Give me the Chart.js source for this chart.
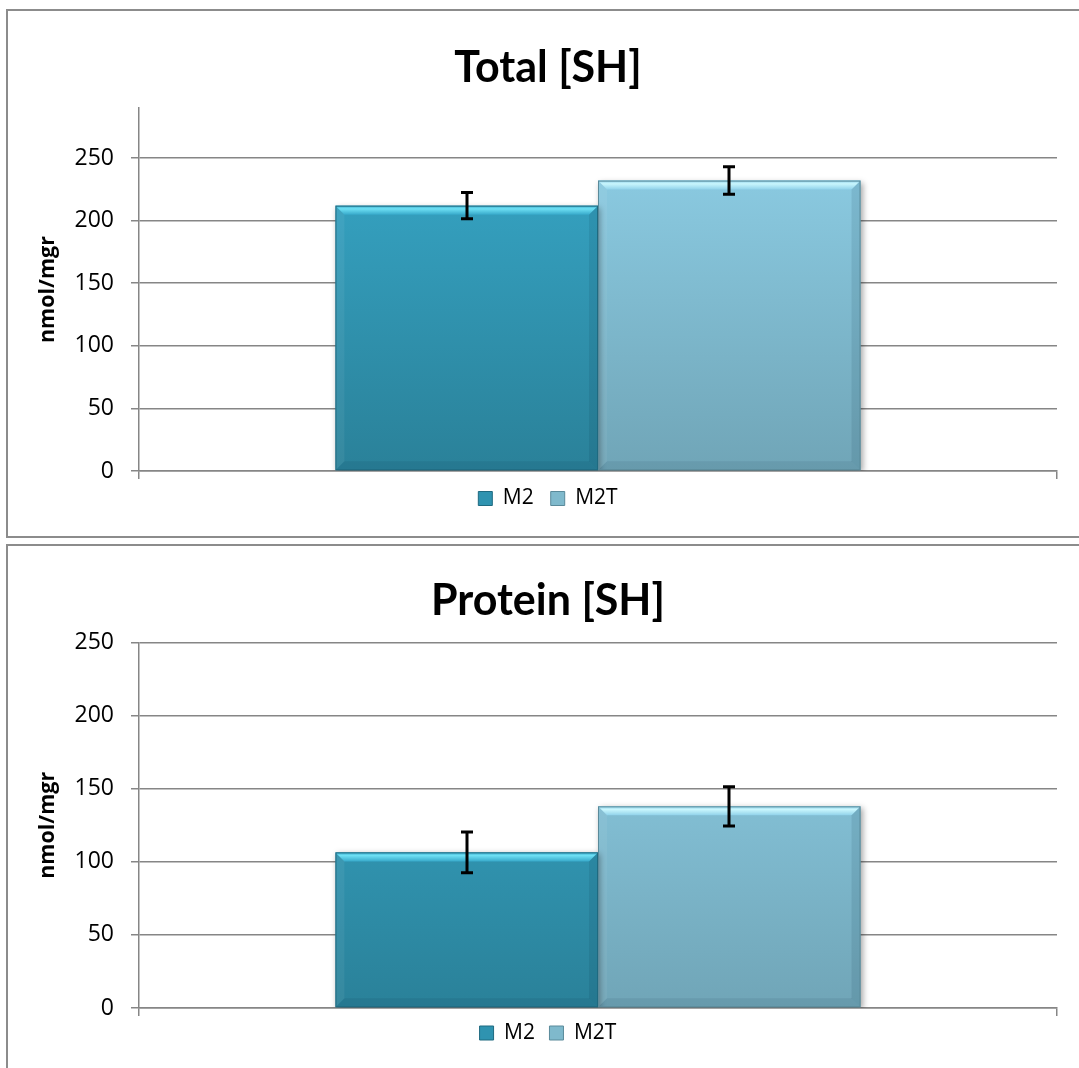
<!DOCTYPE html>
<html>
<head>
<meta charset="utf-8">
<script src="https://cdn.jsdelivr.net/npm/chart.js@4.4.1/dist/chart.umd.min.js"></script>
<style>
  html, body { margin: 0; padding: 0; background: #ffffff; width: 1079px; height: 1068px; overflow: hidden; }
  .frame { position: absolute; border: 2px solid #8c8c8c; box-sizing: border-box; background: #ffffff; }
  .holder { position: absolute; }
</style>
</head>
<body>
<div class="frame" style="left:6px; top:9px; width:1120px; height:529px;"></div>
<div class="frame" style="left:6px; top:544px; width:1120px; height:560px;"></div>
<div class="holder" style="left:0px; top:0px; width:1096px; height:537px;"><canvas id="chartTotal"></canvas></div>
<div class="holder" style="left:0px; top:535px; width:1096px; height:533px;"><canvas id="chartProtein"></canvas></div>
<script>
// Series and labels
const categories = [''];
const seriesNames = ['M2', 'M2T'];
const totalValues = [212, 232];
const totalErrors = [10.5, 11];
const proteinValues = [106.5, 138];
const proteinErrors = [14, 13.5];
const yTicks = [0, 50, 100, 150, 200, 250];

const FONT = "'Open Sans', 'DejaVu Sans', sans-serif";
const TITLE_FONT = "Lato, 'Open Sans', sans-serif";

// Per-series fill colours: top, bottom, bevel highlight, legend swatch, edge
const palette = [
  { top: '#38aacb', bottom: '#2a8199', hi: '#6ee0f4', legend: '#2f93b0', edge: '#1f6a80' },
  { top: '#90d2ea', bottom: '#70a5b7', hi: '#c9f6fd', legend: '#7fb9cc', edge: '#5a8a9a' }
];

function barGradient(ctx, i) {
  const chart = ctx.chart;
  const area = chart.chartArea;
  if (!area) return palette[i].top;
  const g = chart.ctx.createLinearGradient(0, area.top, 0, area.bottom);
  g.addColorStop(0, palette[i].top);
  g.addColorStop(1, palette[i].bottom);
  return g;
}

// Bevel, shadow and error bars for the bars
const barDecor = {
  id: 'barDecor',
  beforeDatasetsDraw(chart) {
    const c = chart.ctx;
    c.save();
    c.shadowColor = 'rgba(0,0,0,0.35)';
    c.shadowBlur = 6;
    c.shadowOffsetX = 2;
    c.shadowOffsetY = 2;
  },
  afterDatasetsDraw(chart, args, opts) {
    const c = chart.ctx;
    c.restore();
    const yScale = chart.scales.y;
    chart.data.datasets.forEach((ds, di) => {
      const meta = chart.getDatasetMeta(di);
      meta.data.forEach((bar) => {
        const l = bar.x - bar.width / 2, r = bar.x + bar.width / 2;
        const t = bar.y, b = bar.base;
        const bv = 9;
        // top bevel
        const gt = c.createLinearGradient(0, t, 0, t + bv);
        gt.addColorStop(0, palette[di].top);
        gt.addColorStop(0.35, palette[di].hi);
        gt.addColorStop(1, palette[di].top);
        c.fillStyle = gt;
        c.beginPath();
        c.moveTo(l, t); c.lineTo(r, t); c.lineTo(r - bv, t + bv); c.lineTo(l + bv, t + bv); c.closePath();
        c.fill();
        // right bevel (darker)
        c.fillStyle = 'rgba(0,40,60,0.10)';
        c.beginPath();
        c.moveTo(r, t); c.lineTo(r, b); c.lineTo(r - bv, b - bv); c.lineTo(r - bv, t + bv); c.closePath();
        c.fill();
        // left bevel (lighter)
        c.fillStyle = 'rgba(255,255,255,0.06)';
        c.beginPath();
        c.moveTo(l, t); c.lineTo(l + bv, t + bv); c.lineTo(l + bv, b - bv); c.lineTo(l, b); c.closePath();
        c.fill();
        // bottom bevel
        c.fillStyle = 'rgba(0,30,45,0.08)';
        c.beginPath();
        c.moveTo(l, b); c.lineTo(l + bv, b - bv); c.lineTo(r - bv, b - bv); c.lineTo(r, b); c.closePath();
        c.fill();
        // thin outline
        c.strokeStyle = palette[di].edge;
        c.lineWidth = 1;
        c.strokeRect(l + 0.5, t + 0.5, r - l - 1, b - t - 1);
      });
    });
    // error bars
    const errs = opts.errors || [];
    chart.data.datasets.forEach((ds, di) => {
      const meta = chart.getDatasetMeta(di);
      meta.data.forEach((bar, k) => {
        const v = ds.data[k];
        const e = errs[di];
        const yHi = yScale.getPixelForValue(v + e);
        const yLo = yScale.getPixelForValue(v - e);
        const x = Math.round(bar.x);
        c.save();
        c.strokeStyle = '#000000';
        c.lineWidth = 3;
        c.beginPath();
        c.moveTo(x, yHi); c.lineTo(x, yLo);
        c.moveTo(x - 6, yHi); c.lineTo(x + 6, yHi);
        c.moveTo(x - 6, yLo); c.lineTo(x + 6, yLo);
        c.stroke();
        c.restore();
      });
    });
  }
};

function makeChart(canvasId, titleText, values, errors, yMax, titlePad, legendPad, bottomPad) {
  const datasets = seriesNames.map((name, i) => ({
    label: name,
    data: [values[i]],
    backgroundColor: (ctx) => barGradient(ctx, i),
    borderWidth: 0,
    categoryPercentage: 0.572,
    barPercentage: 1.0
  }));
  return new Chart(document.getElementById(canvasId), {
    type: 'bar',
    data: { labels: categories, datasets },
    plugins: [barDecor],
    options: {
      responsive: true,
      maintainAspectRatio: false,
      animation: false,
      events: [],
      layout: { padding: { left: 0, right: 0, top: 0, bottom: bottomPad } },
      plugins: {
        barDecor: { errors },
        tooltip: { enabled: false },
        title: {
          display: true,
          text: titleText,
          color: '#000000',
          font: { family: TITLE_FONT, size: 43, weight: 'bold', lineHeight: 1.2 },
          padding: titlePad
        },
        legend: {
          display: true,
          position: 'bottom',
          labels: {
            color: '#000000',
            font: { family: FONT, size: 21 },
            boxWidth: 14,
            boxHeight: 14,
            padding: legendPad,
            generateLabels(chart) {
              return chart.data.datasets.map((ds, i) => ({
                text: ds.label,
                fillStyle: palette[i].legend,
                strokeStyle: palette[i].edge,
                lineWidth: 1,
                datasetIndex: i,
                hidden: false
              }));
            }
          }
        }
      },
      scales: {
        x: {
          grid: { display: true, drawOnChartArea: false, drawTicks: true, tickLength: 8, color: '#868686', lineWidth: 1.5, offset: true },
          border: { display: true, color: '#868686', width: 1.5 },
          ticks: { display: false },
          afterFit(s) { s.height = 0; }
        },
        y: {
          min: 0,
          max: yMax,
          ticks: {
            stepSize: 50,
            color: '#000000',
            font: { family: FONT, size: 23 },
            padding: 17
          },
          afterBuildTicks(s) { s.ticks = yTicks.map(v => ({ value: v })); },
          grid: { color: '#868686', lineWidth: 1.5, tickLength: 8, drawTicks: true },
          border: { display: true, color: '#868686', width: 1.5 },
          title: {
            display: true,
            text: 'nmol/mgr',
            color: '#000000',
            font: { family: FONT, size: 21.5, weight: 'bold' },
            padding: { top: 35, bottom: 0 }
          },
          afterFit(s) { s.width = 139; }
        },
        yRight: {
          position: 'right',
          display: true,
          grid: { display: false },
          border: { display: false },
          ticks: { display: false },
          afterFit(s) { s.width = 39; }
        }
      }
    }
  });
}

makeChart('chartTotal', 'Total [SH]', totalValues, totalErrors, 290, { top: 42, bottom: 14.4 }, 17, 18);
makeChart('chartProtein', 'Protein [SH]', proteinValues, proteinErrors, 250, { top: 40, bottom: 16.1 }, 14.5, 14.5);
</script>
</body>
</html>
